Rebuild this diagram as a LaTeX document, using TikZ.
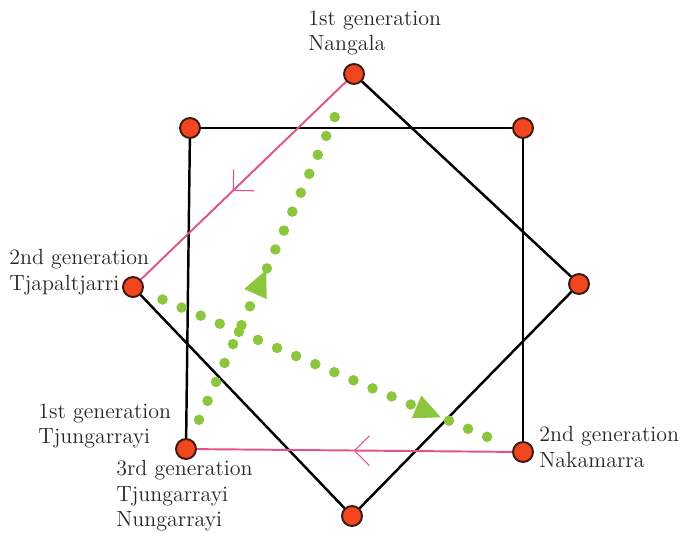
\documentclass[tikz,border=0pt]{standalone}
\usepackage{tikz}
\usetikzlibrary{decorations.markings}

\definecolor{dotred}{HTML}{F2461E}
\definecolor{dotrim}{HTML}{3A1A12}
\definecolor{kinpink}{HTML}{E4508C}
\definecolor{kingreen}{HTML}{8CC63C}

\begin{document}
\begin{tikzpicture}[x=0.02cm, y=-0.02cm,
    skin/.style={circle, draw=dotrim, line width=1.1pt, fill=dotred, minimum size=0.4cm, inner sep=0pt},
    kinline/.style={line width=1.4pt, black},
    marry/.style={line width=1.1pt, kinpink, postaction={decorate},
        decoration={markings, mark=at position #1 with {\draw[line width=0.6pt] (-8.5pt,8.5pt) -- (0,0) -- (-8.5pt,-8.5pt);}}},
    descent/.style={kingreen, line width=6pt, line cap=round, dash pattern=on 0pt off 11.8pt,
        shorten <=12pt, shorten >=12pt, postaction={decorate},
        decoration={markings, mark=at position #1 with {\fill[kingreen] (8pt,0) -- (-7pt,7pt) -- (-7pt,-7pt) -- cycle;}}},
    gen/.style={anchor=west, align=left, inner sep=0pt, font=\fontsize{12.5}{14.5}\selectfont, text=black!85}]
    \useasboundingbox (0,0) rectangle (695,532);

    % Draw nodes
    \node[skin] (nangala) at (354,74) {};
    \node[skin] (sqtl) at (190,128) {};
    \node[skin] (sqtr) at (523,128) {};
    \node[skin] (right) at (579,284) {};
    \node[skin] (tjapaltjarri) at (133,287) {};
    \node[skin] (tjungarrayi) at (186,449) {};
    \node[skin] (nakamarra) at (523,452) {};
    \node[skin] (bottom) at (352,516) {};

    % Draw connections
    \draw[kinline] (sqtl) -- (sqtr);
    \draw[kinline] (sqtr) -- (nakamarra);
    \draw[kinline] (sqtl) -- (tjungarrayi);
    \draw[kinline] (nangala) -- (right);
    \draw[kinline] (right) -- (bottom);
    \draw[kinline] (bottom) -- (tjapaltjarri);
    \draw[marry=0.55] (nangala) -- (tjapaltjarri);
    \draw[marry=0.5] (nakamarra) -- (tjungarrayi);

    % Descent lines
    \draw[descent=0.44] (tjungarrayi) -- (nangala);
    \draw[descent=0.77] (tjapaltjarri) -- (nakamarra);

    % Labels
    \node[gen] (lnangala) at (308,33) {1st generation\\Nangala};
    \node[gen] (ltjapaltjarri) at (9,272) {2nd generation\\Tjapaltjarri};
    \node[gen] (ltjungarrayi) at (38,426) {1st generation\\Tjungarrayi};
    \node[gen] (lthird) at (116,496) {3rd generation\\Tjungarrayi\\Nungarrayi};
    \node[gen] (lnakamarra) at (539,447) {2nd generation\\Nakamarra};
\end{tikzpicture}
\end{document}
